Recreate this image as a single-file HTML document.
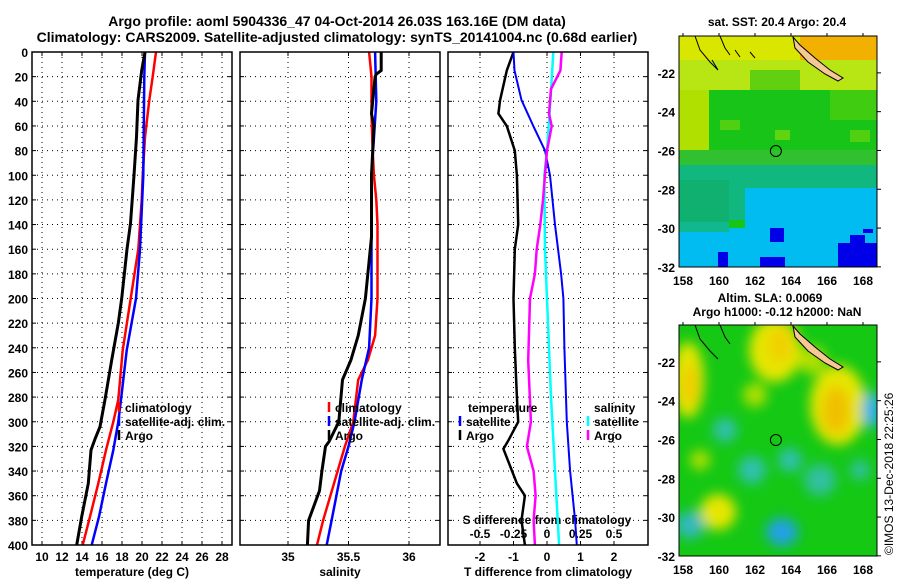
<!DOCTYPE html>
<html><head><meta charset="utf-8"><style>
body{margin:0;background:#fff}
svg{display:block;font-family:"Liberation Sans",sans-serif;font-weight:bold}
</style></head><body>
<svg id="fig" width="900" height="580" viewBox="0 0 900 580" xmlns="http://www.w3.org/2000/svg">
<defs>
<filter id="blur" x="-50%" y="-50%" width="200%" height="200%"><feGaussianBlur stdDeviation="6"/></filter>
<clipPath id="clipTop"><rect x="679" y="36" width="198" height="231"/></clipPath>
<clipPath id="clipBot"><rect x="679" y="325" width="198" height="231"/></clipPath>
</defs>
<text x="337" y="26" font-size="14" text-anchor="middle">Argo profile: aoml 5904336_47 04-Oct-2014 26.03S 163.16E (DM data)</text>
<text x="337" y="42" font-size="14" text-anchor="middle">Climatology: CARS2009. Satellite-adjusted climatology: synTS_20141004.nc (0.68d earlier)</text>
<g id="plots"></g>
<g id="maps"></g>
<text x="893" y="555" font-size="12" font-weight="normal" transform="rotate(-90 893 555)">©IMOS 13-Dec-2018 22:25:26</text>
</svg>
<script>
// ---- data ----
const tClimDepth=[0,20,39,69,100,120,160,200,242,282,300,323,350,377,400];
const tClimVal=[21.4,21.07,20.73,20.3,20.07,19.97,19.63,18.87,18.07,17.63,17.13,16.4,15.63,14.8,14.07];
const tSatDepth=[0,20,100,160,200,242,282,300,323,350,377,400];
const tSatVal=[20.3,20.23,20.13,19.8,19.4,18.47,17.9,17.63,17.13,16.4,15.7,14.97];
const tArgoDepth=[0,15,39,69,100,139,160,200,220,250,282,304,314,323,350,377,400];
const tArgoVal=[20.3,19.97,19.6,19.45,19.2,18.85,18.5,17.97,17.63,16.97,16.3,15.8,15.3,14.9,14.63,13.97,13.47];

const sClimDepth=[0,20,50,80,100,120,140,200,230,250,266,300,320,340,360,380,400];
const sClimVal=[35.67,35.69,35.69,35.70,35.71,35.73,35.74,35.74,35.72,35.66,35.58,35.54,35.47,35.41,35.35,35.29,35.24];
const sSatDepth=[0,40,100,200,240,266,300,320,340,360,380,400];
const sSatVal=[35.72,35.73,35.69,35.69,35.67,35.61,35.55,35.50,35.44,35.40,35.36,35.32];
const sArgoDepth=[0,15,18,20,50,60,100,150,200,230,250,266,300,316,320,340,356,380,400];
const sArgoVal=[35.77,35.77,35.73,35.72,35.69,35.71,35.69,35.69,35.64,35.58,35.52,35.45,35.42,35.34,35.31,35.28,35.26,35.17,35.16];

const dDepth=[0,15,39,50,60,80,100,140,160,200,240,280,300,315,322,350,360,380,400];
const dTArgo=[-1.0,-1.2,-1.4,-1.45,-1.2,-0.96,-0.9,-0.86,-0.96,-1.0,-0.96,-0.9,-0.86,-1.15,-1.3,-0.9,-0.66,-0.76,-0.66];
const dSatDepth=[0,15,39,60,80,100,140,180,200,240,300,340,380,400];
const dTSat=[-1.0,-0.97,-0.76,-0.41,-0.06,0.09,0.24,0.42,0.49,0.52,0.59,0.69,0.84,0.89];
const dSSatDepth=[0,40,80,100,160,200,280,340,400];
const dSSat=[0.047,0.025,0,-0.02,-0.015,0,0.03,0.06,0.09];
const dSArgoDepth=[0,15,30,50,60,80,120,140,160,180,200,250,300,320,340,360,380,400];
const dSArgo=[0.11,0.1,0.03,0.015,0.035,0,-0.03,-0.05,-0.077,-0.09,-0.127,-0.14,-0.12,-0.15,-0.1,-0.085,-0.1,-0.09];

const depthTicks=[0,20,40,60,80,100,120,140,160,180,200,220,240,260,280,300,320,340,360,380,400];
const tempTicks=[10,12,14,16,18,20,22,24,26,28];
const salTicks=[35,35.5,36];
const dTTicks=[-2,-1,0,1,2];
const dSTicks=[-0.5,-0.25,0,0.25,0.5];
const latTicks=[-22,-24,-26,-28,-30,-32];
const lonTicks=[158,160,162,164,166,168];

// ---- axes ----
const NS='http://www.w3.org/2000/svg';
const top0=52, bot0=545;
const yD=d=>top0+d*(bot0-top0)/400;
const xT=t=>42+(t-10)*10;
const xS=s=>288+(s-35)*121;
const xDT=v=>547+v*33.5;
const xDS=v=>547+v*134;
const plots=document.getElementById('plots');
function mk(tag,attrs,parent){const e=document.createElementNS(NS,tag);for(const k in attrs)e.setAttribute(k,attrs[k]);(parent||plots).appendChild(e);return e;}
function txt(x,y,s,size,anchor,parent){const e=mk('text',{x:x,y:y,'font-size':size,'text-anchor':anchor||'middle'},parent);e.textContent=s;return e;}

const panels=[{x0:32,x1:232,name:'temperature'},{x0:240,x1:440,name:'salinity'},{x0:448,x1:648,name:'difference'}];
panels.forEach(p=>{
  const g=mk('g',{});
  
  
  depthTicks.forEach(d=>{
    if(d>0&&d<400){const l=mk('line',{x1:p.x0,x2:p.x1,y1:yD(d),y2:yD(d),stroke:'#000','stroke-width':1,'stroke-dasharray':'1 4'},g);
    
    }
    mk('line',{x1:p.x0,x2:p.x0+4,y1:yD(d),y2:yD(d),stroke:'#000'},g);
    mk('line',{x1:p.x1,x2:p.x1-4,y1:yD(d),y2:yD(d),stroke:'#000'},g);
  });
  p.g=g;
});
function vgrid(p,ticks,fx){ticks.forEach(t=>{const x=fx(t);
  const l=mk('line',{x1:x,x2:x,y1:top0,y2:bot0,stroke:'#000','stroke-width':1,'stroke-dasharray':'1 4'},p.g);
  
  
  mk('line',{x1:x,x2:x,y1:bot0,y2:bot0-4,stroke:'#000'},p.g);mk('line',{x1:x,x2:x,y1:top0,y2:top0+4,stroke:'#000'},p.g);});}
vgrid(panels[0],tempTicks,xT);vgrid(panels[1],salTicks,xS);vgrid(panels[2],dTTicks,xDT);

depthTicks.forEach(d=>{const t=txt(28,yD(d)+5,String(d),12,'end');
  
  });
tempTicks.forEach(v=>{const t=txt(xT(v),561,String(v),12);
  
  });
salTicks.forEach(v=>{const t=txt(xS(v),561,String(v),12);
  
  });
dTTicks.forEach(v=>{const t=txt(xDT(v),561,String(v),12);
  
  });
dSTicks.forEach(v=>{const t=txt(xDS(v),538,String(v),12);
  
  });
let at;
at=txt(132,576,'temperature (deg C)',12);
at=txt(340,576,'salinity',12);
at=txt(548,576,'T difference from climatology',12);
at=txt(547,524,'S difference from climatology',12);

function line(depths,vals,fx,color,w,name){
  const pts=depths.map((d,i)=>fx(vals[i]).toFixed(1)+','+yD(d).toFixed(1)).join(' ');
  const l=mk('polyline',{points:pts,fill:'none',stroke:color,'stroke-width':w,'stroke-linejoin':'miter'});
  
  
}
line(tClimDepth,tClimVal,xT,'#f00',2.5,'temperature-climatology-line');
line(tSatDepth,tSatVal,xT,'#00f',2.5,'temperature-satellite-line');
line(tArgoDepth,tArgoVal,xT,'#000',3,'temperature-argo-line');
line(sClimDepth,sClimVal,xS,'#f00',2.5,'salinity-climatology-line');
line(sSatDepth,sSatVal,xS,'#00f',2.5,'salinity-satellite-line');
line(sArgoDepth,sArgoVal,xS,'#000',3,'salinity-argo-line');
line(dDepth,dTArgo,xDT,'#000',2.5,'t-diff-argo-line');
line(dSatDepth,dTSat,xDT,'#00f',2,'t-diff-satellite-line');
line(dSSatDepth,dSSat,xDS,'#0ff',2.5,'s-diff-satellite-line');
line(dSArgoDepth,dSArgo,xDS,'#f0f',2.5,'s-diff-argo-line');

panels.forEach(p=>{const r=mk('rect',{x:p.x0,y:top0,width:p.x1-p.x0,height:bot0-top0,fill:'none',stroke:'#000','stroke-width':1.5});
  
  });

function legend(x,y,color,label,name){
  mk('line',{x1:x,x2:x,y1:y-10,y2:y,stroke:color,'stroke-width':2.5});
  const t=txt(x+6,y,label,12,'start');
  
  
}
legend(119,412,'#f00','climatology','legend-climatology');
legend(119,426,'#00f','satellite-adj. clim.','legend-satellite-adj');
legend(119,440,'#000','Argo','legend-argo');
legend(329,412,'#f00','climatology','legend2-climatology');
legend(329,426,'#00f','satellite-adj. clim.','legend2-satellite-adj');
legend(329,440,'#000','Argo','legend2-argo');
at=txt(468,412,'temperature',12,'start');
legend(460,426,'#00f','satellite','legend-t-satellite');
legend(460,440,'#000','Argo','legend-t-argo');
at=txt(594,412,'salinity',12,'start');
legend(588,426,'#0ff','satellite','legend-s-satellite');
legend(588,440,'#f0f','Argo','legend-s-argo');

// ---- maps ----
const maps=document.getElementById('maps');
const lonX=l=>683+(l-158)*18;
function latY(lat,top){return top+(-20.1-lat)*19.4;}
function R(g,x,y,w,h,c){mk('rect',{x:x,y:y,width:w,height:h,fill:c},g);}
// top SST map
const gt=mk('g',{'clip-path':'url(#clipTop)'},maps);


R(gt,679,36,198,231,'#18c418');
R(gt,679,36,198,30,'#d8e600');
R(gt,800,36,77,28,'#f2b000');
R(gt,679,60,198,30,'#b8e614');
R(gt,679,90,30,60,'#b0e000');
R(gt,750,70,50,20,'#60d010');
R(gt,830,90,47,30,'#40cc10');
R(gt,720,120,20,10,'#50d010');R(gt,775,130,15,10,'#60d410');R(gt,850,130,20,12,'#50d010');
R(gt,679,150,198,20,'#30c030');
R(gt,679,165,198,25,'#10b880');
R(gt,679,180,50,45,'#10b070');R(gt,729,190,16,30,'#10b880');
R(gt,745,188,132,79,'#00bcf0');
R(gt,679,228,66,39,'#00bcf0');
R(gt,679,222,50,10,'#10b890');
R(gt,838,243,39,24,'#0000e8');R(gt,850,235,15,10,'#0000e8');
R(gt,770,228,14,14,'#0000e8');R(gt,760,257,25,10,'#0000e8');R(gt,718,252,10,15,'#0000e8');
R(gt,863,229,10,4,'#0000e8');
mk('path',{d:'M793,37 L800,45 L815,58 L830,70 L843,78 L838,81 L825,74 L808,62 L795,48 Z',fill:'#f5c896',stroke:'#000','stroke-width':1},gt);
mk('path',{d:'M695,36 L700,50 L710,62 L718,70 L712,60 M720,36 L725,48 L730,55 M735,50 L740,57 M750,52 L755,58',fill:'none',stroke:'#000','stroke-width':1},gt);
const ct=mk('circle',{cx:lonX(163.16),cy:latY(-26.03,36),r:5.5,fill:'none',stroke:'#000','stroke-width':1},maps);


mk('rect',{x:679,y:36,width:198,height:231,fill:'none',stroke:'#000','stroke-width':1},maps);
// bottom SLA map
const gb=mk('g',{'clip-path':'url(#clipBot)'},maps);


R(gb,679,325,198,231,'#14c814');
const gbb=mk('g',{filter:'url(#blur)'},gb);
[[688,380,16,38,'#e6e600'],[690,385,8,22,'#f0cc00'],[775,350,26,32,'#e6e600'],[780,345,12,18,'#f0d000'],[838,405,28,40,'#e6e600'],[836,410,14,24,'#f0c000'],
 [718,512,18,18,'#e6e600'],[812,360,14,14,'#b0e000'],[755,395,12,12,'#b0e000'],[700,460,10,10,'#b0e000'],
 [782,532,16,14,'#20a0e8'],[725,430,12,12,'#30c0b0'],[752,470,14,14,'#30c0b0'],[872,410,10,18,'#20b0e8'],[690,525,14,14,'#30b8c0'],[820,480,16,16,'#30c0a0'],[790,460,12,12,'#30c0b0'],[860,470,10,10,'#30c0a0']
].forEach(e=>mk('ellipse',{cx:e[0],cy:e[1],rx:e[2],ry:e[3],fill:e[4]},gbb));
mk('path',{d:'M793,326 L800,334 L815,347 L830,359 L843,367 L838,370 L825,363 L808,351 L795,337 Z',fill:'#f5c896',stroke:'#000','stroke-width':1},gb);
mk('path',{d:'M695,325 L700,339 L710,351 L718,359 M720,325 L725,337 L730,344',fill:'none',stroke:'#000','stroke-width':1},gb);
const cb=mk('circle',{cx:lonX(163.16),cy:latY(-26.03,325),r:5.5,fill:'none',stroke:'#000','stroke-width':1},maps);


mk('rect',{x:679,y:325,width:198,height:231,fill:'none',stroke:'#000','stroke-width':1},maps);
[36,325].forEach((top,k)=>{
  latTicks.forEach(l=>{const y=latY(l,top);
    mk('line',{x1:877,x2:881,y1:y,y2:y,stroke:'#000'},maps);
    const t=txt(675,y+5,String(l),12,'end',maps);
    
    });
  lonTicks.forEach(l=>{const x=lonX(l);
    mk('line',{x1:x,x2:x,y1:top,y2:top-3,stroke:'#000'},maps);
    const t=txt(x,top+231+18,String(l),12,'middle',maps);
    
    });
});
at=txt(777,26,'sat. SST: 20.4 Argo: 20.4',12,'middle',maps);
at=txt(770,302,'Altim. SLA: 0.0069',12,'middle',maps);
at=txt(777,316,'Argo h1000: -0.12 h2000: NaN',12,'middle',maps);
</script>
</body></html>
